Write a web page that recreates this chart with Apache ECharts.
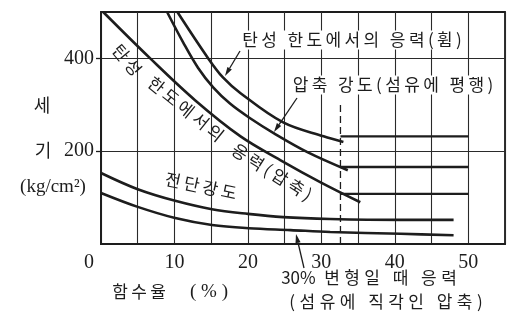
<!DOCTYPE html>
<html><head><meta charset="utf-8">
<script src="https://cdn.jsdelivr.net/npm/echarts@6/dist/echarts.min.js"></script>
<style>html,body{margin:0;padding:0;background:#fff}#c{width:520px;height:328px}</style>
</head><body><div id="c"></div>
<script>
// ---- data (moisture content %, strength kg/cm2) ----
const bendElasticX = [10.4, 14.6, 16.6, 19.0, 24.8, 30.3, 33.0];
const bendElasticY = [500, 400, 359, 325, 262, 232, 220];
const compParallelX = [9.0, 11.2, 13.2, 15.3, 17.6, 20.3, 23.5, 28.1, 33.6];
const compParallelY = [500, 434, 380, 337, 302, 271, 239, 198, 159];
const compElasticX = [0.3, 6.7, 12.8, 19.0, 24.4, 29.9, 35.3];
const compElasticY = [500, 400, 310, 232, 181, 133, 90];
const shearX = [0, 5.0, 10.1, 15.1, 20.0, 24.8, 31.2, 40.8, 48.0];
const shearY = [153, 118, 93, 75, 65, 58, 54, 52, 52];
const perpX = [0, 5.0, 10.1, 15.1, 20.1, 25.8, 31.2, 40.8, 48.0];
const perpY = [110, 80, 56, 41, 34, 30, 26, 22, 19];
const saturationPoint = 32.6;          // dashed vertical
const saturationTop = 303;
const plateauEnd = 50;
const plateauValues = [232, 166, 108]; // bend elastic, comp parallel, comp elastic
const xTickLabels = [0, 10, 20, 30, 40, 50];
const yTickLabels = [200, 400];

const ink = '#1d1d1d';
const kr = '"Noto Sans CJK KR", sans-serif';
const serif = '"Liberation Serif", "DejaVu Serif", serif';
const sp = (s, g) => s.split('').join(g || '\u2009');
const zip = (xs, ys) => xs.map((x, i) => [x, ys[i]]);

function curve(xs, ys, w) {
  return { type: 'line', data: zip(xs, ys), symbol: 'none', smooth: 0.35,
    lineStyle: { color: ink, width: w || 2.6 }, silent: true, z: 3 };
}
const series = [
  curve(bendElasticX, bendElasticY),
  curve(compParallelX, compParallelY),
  curve(compElasticX, compElasticY),
  curve(shearX, shearY),
  curve(perpX, perpY),
  { type: 'line', data: [[saturationPoint, 0], [saturationPoint, saturationTop]], symbol: 'none',
    lineStyle: { color: ink, width: 1.3, type: [7, 4] }, silent: true, z: 2 }
].concat(plateauValues.map(v => ({
  type: 'line', data: [[saturationPoint, v], [plateauEnd, v]], symbol: 'none',
  lineStyle: { color: ink, width: 2.4 }, silent: true, z: 3 })));

function txt(s, x, y, size, rotDeg, family, bg) {
  const st = { text: s, fill: ink, fontSize: size, fontFamily: family || kr,
    textAlign: 'center', textVerticalAlign: 'middle' };
  if (bg) { st.backgroundColor = '#fff'; st.padding = [1, 2]; }
  return { type: 'text', x: x, y: y, rotation: (rotDeg || 0) * Math.PI / 180, style: st, z: 10 };
}
function arrow(x1, y1, x2, y2) {
  const a = Math.atan2(y2 - y1, x2 - x1), L = 9, W = 2.6;
  const bx = x2 - L * Math.cos(a), by = y2 - L * Math.sin(a);
  const px = -Math.sin(a) * W, py = Math.cos(a) * W;
  return [
    { type: 'line', shape: { x1, y1, x2: bx, y2: by }, style: { stroke: ink, lineWidth: 1.3 }, z: 11 },
    { type: 'polygon', shape: { points: [[x2, y2], [bx + px, by + py], [bx - px, by - py]] },
      style: { fill: ink }, z: 11 }
  ];
}

const graphics = [
  txt(sp('탄성 한도에서의 응력(휨)'), 352, 40, 17, 0, kr, true),
  txt(sp('압축 강도(섬유에 평행)'), 393, 85, 17, 0, kr, true),
  txt(sp('탄성'), 127, 60, 17, -50),
  txt(sp('한도에서의'), 186, 109, 17, -39),
  txt(sp('응력(압축)'), 272, 172, 17, -32),
  txt(sp('전단강도'), 201, 186, 17, -12),
  txt('30%\u2002' + sp('변형일 때 응력', '\u2009\u200A'), 369, 278, 17, 0, kr, true),
  txt(sp('(섬유에 직각인 압축)', '\u2009\u200A'), 386, 302, 17, 0, kr, true),
  txt('세', 42, 105, 18),
  txt('기', 43, 150, 18),
  txt('(kg/cm²)', 53, 187, 19, 0, serif),
  txt(sp('함수율'), 139, 292, 17),
  txt('( % )', 209, 292, 19, 0, serif)
].concat(arrow(240, 51, 225, 76), arrow(297, 98, 274, 132), arrow(304, 268, 296, 234));

const chart = echarts.init(document.getElementById('c'), null, { renderer: 'canvas' });
chart.setOption({
  animation: false,
  backgroundColor: '#fff',
  grid: { left: 101, right: 15, top: 12, bottom: 84, show: true, borderColor: ink, borderWidth: 1.8 },
  xAxis: {
    type: 'value', min: 0, max: 55, interval: 5,
    axisLine: { lineStyle: { color: ink, width: 1.8 } },
    axisTick: { show: false },
    splitLine: { show: true, lineStyle: { color: '#2a2a2a', width: 1.1 } },
    axisLabel: {
      customValues: xTickLabels, margin: 9, color: ink, fontSize: 20, fontFamily: serif,
      formatter: v => v === 0 ? '{z|0}' : String(v),
      rich: { z: { padding: [0, 24, 0, 0], fontSize: 20, fontFamily: serif, color: ink } }
    }
  },
  yAxis: {
    type: 'value', min: 0, max: 500, interval: 100,
    axisLine: { show: true, lineStyle: { color: ink, width: 1.8 } },
    axisTick: { show: true, customValues: yTickLabels, length: 5, lineStyle: { color: ink, width: 1.3 } },
    splitLine: { show: true, lineStyle: { color: '#2a2a2a', width: 1.1 } },
    axisLabel: { customValues: yTickLabels, margin: 7, color: ink, fontSize: 20, fontFamily: serif }
  },
  series: series,
  graphic: graphics
});
</script></body></html>
